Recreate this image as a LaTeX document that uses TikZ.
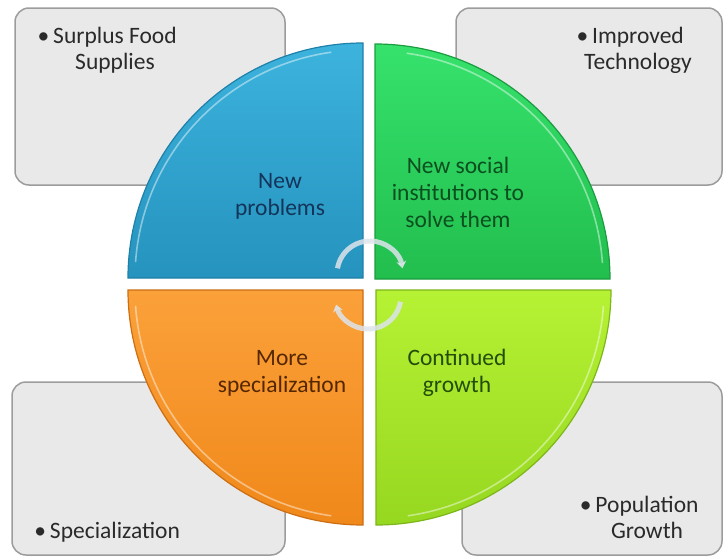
\documentclass[tikz,border=0pt]{standalone}
\usepackage{fontspec}
\setmainfont{Carlito}
\usepackage{xcolor}
\usetikzlibrary{arrows.meta}

\definecolor{boxfill}{HTML}{E9E9EA}
\definecolor{boxline}{HTML}{9C9C9C}
\definecolor{notegray}{HTML}{2A2A2A}
\definecolor{arcgray}{HTML}{DDE4EB}
\definecolor{blueA}{HTML}{3CB3DD}
\definecolor{blueB}{HTML}{2593BE}
\definecolor{blueE}{HTML}{1F80A8}
\definecolor{blueT}{HTML}{14345A}
\definecolor{greenA}{HTML}{36E26C}
\definecolor{greenB}{HTML}{22BE4E}
\definecolor{greenE}{HTML}{1B9C40}
\definecolor{greenT}{HTML}{0B4F1F}
\definecolor{orangeA}{HTML}{FBA13A}
\definecolor{orangeB}{HTML}{F0881A}
\definecolor{orangeE}{HTML}{CC6E12}
\definecolor{orangeT}{HTML}{552700}
\definecolor{limeA}{HTML}{B6F234}
\definecolor{limeB}{HTML}{96D720}
\definecolor{limeE}{HTML}{7DB61A}
\definecolor{limeT}{HTML}{234D08}

\begin{document}
\begin{tikzpicture}[x=1pt,y=-1pt,>={Stealth[length=7pt,width=10pt]},
    notebox/.style={draw=boxline, fill=boxfill, line width=1.5pt, rounded corners=14pt},
    notetext/.style={text=notegray, align=center, font=\fontsize{23.5}{26}\selectfont},
    wedge/.style={line width=1.2pt},
    rim/.style={draw=white, line width=1.6pt, opacity=0.45},
    wedgetext/.style={align=center, font=\fontsize{23.5}{27}\selectfont},
    cyclearc/.style={draw=arcgray, line width=5pt, opacity=0.85, ->}]
    \useasboundingbox (0,0) rectangle (724,557);

    % grey boxes behind the circle
    \draw[notebox] (15,8) rectangle (285,185);
    \draw[notebox] (456,8) rectangle (722,185);
    \draw[notebox] (12,382) rectangle (285,555);
    \draw[notebox] (462,382) rectangle (722,555);

    \node[notetext] (food) at (115,50) {\llap{\textbullet\,}Surplus Food\\Supplies};
    \node[notetext] (tech) at (638,50) {\llap{\textbullet\,}Improved\\Technology};
    \node[notetext] (spec) at (115,532) {\llap{\textbullet\,}Specialization};
    \node[notetext] (pop) at (647,517) {\llap{\textbullet\,}Population\\Growth};

    % the four quarters
    \path[wedge, top color=blueA, bottom color=blueB, draw=blueE]
        (363,278) -- ++(-235,0) arc[start angle=180, end angle=270, radius=235] -- cycle;
    \path[wedge, top color=greenA, bottom color=greenB, draw=greenE]
        (375,279) -- ++(0,-235) arc[start angle=270, end angle=360, radius=235] -- cycle;
    \path[wedge, top color=orangeA, bottom color=orangeB, draw=orangeE]
        (363,290) -- ++(-235,0) arc[start angle=180, end angle=90, radius=235] -- cycle;
    \path[wedge, top color=limeA, bottom color=limeB, draw=limeE]
        (376,290) -- ++(235,0) arc[start angle=0, end angle=90, radius=235] -- cycle;

    % light rims just inside the edges
    \draw[rim] (363,278) ++(184:228) arc[start angle=184, end angle=262, radius=228];
    \draw[rim] (375,279) ++(278:228) arc[start angle=278, end angle=356, radius=228];
    \draw[rim] (363,290) ++(176:228) arc[start angle=176, end angle=98, radius=228];
    \draw[rim] (376,290) ++(4:228) arc[start angle=4, end angle=82, radius=228];

    \node[wedgetext, text=blueT] (prob) at (280,196) {New\\problems};
    \node[wedgetext, text=greenT] (inst) at (458,192) {New social\\institutions to\\solve them};
    \node[wedgetext, text=orangeT] (more) at (282,373) {More\\specialization};
    \node[wedgetext, text=limeT] (grow) at (457,373) {Continued\\growth};

    % cycle arrows in the middle
    \coordinate (hub) at (369,285);
    \draw[cyclearc] (hub) ++(1,-11) ++(190:33) arc[start angle=190, end angle=350, radius=33];
    \draw[cyclearc] (hub) ++(-1,11) ++(10:33) arc[start angle=10, end angle=165, radius=33];
\end{tikzpicture}
\end{document}
